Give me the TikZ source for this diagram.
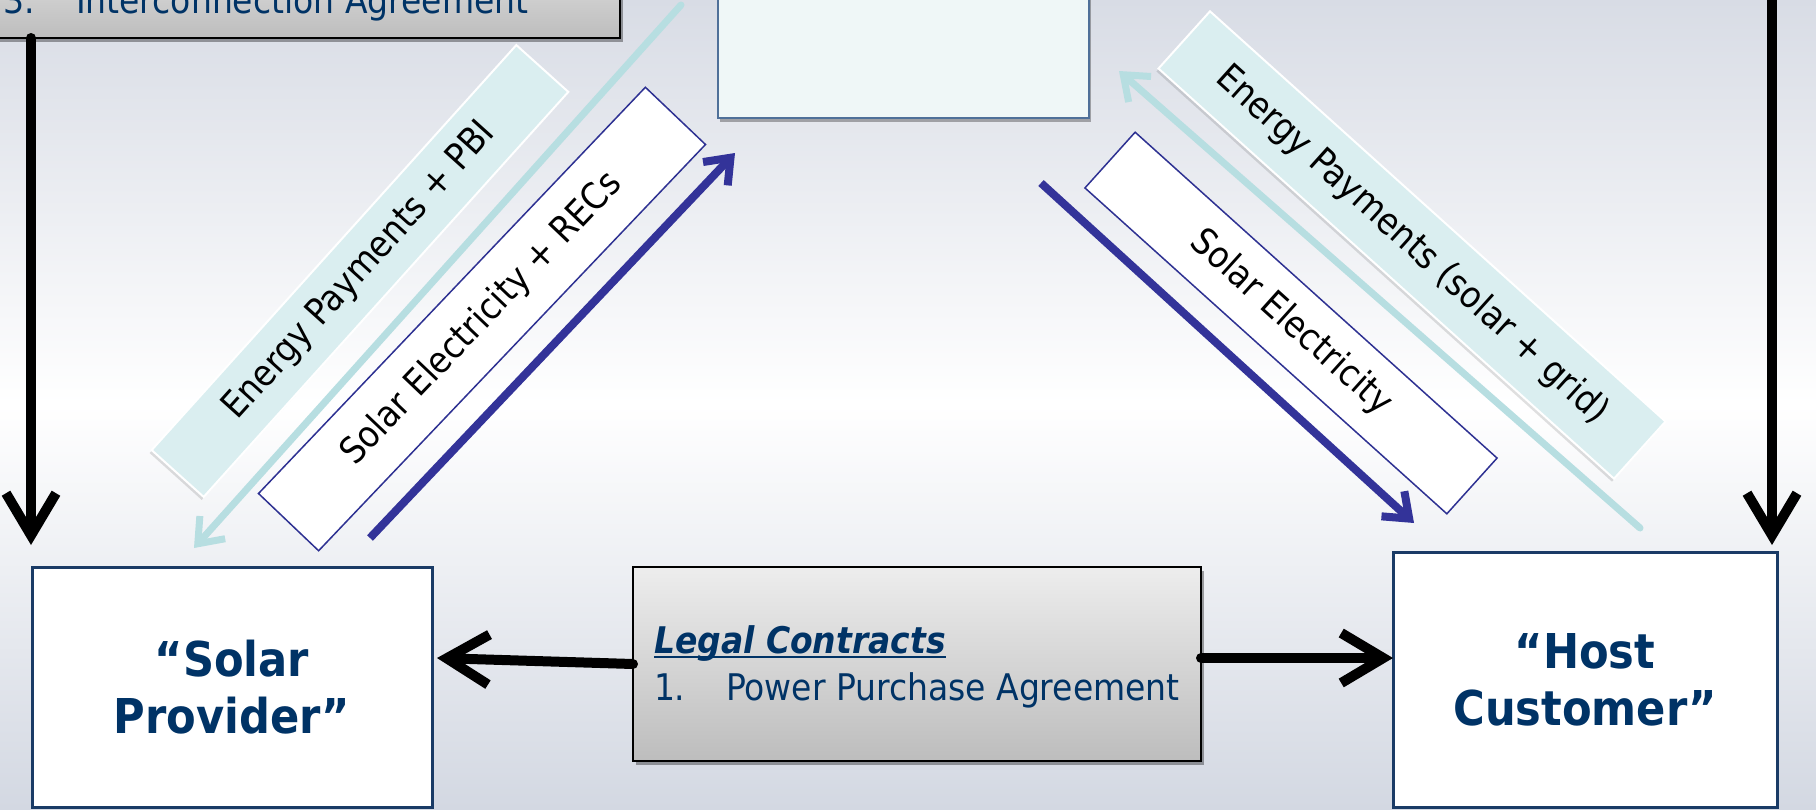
\documentclass[tikz,border=0pt]{standalone}
\usepackage{fontspec}
\setmainfont{DejaVu Sans Condensed}
\usetikzlibrary{arrows.meta,shadows}

\definecolor{bgtop}{HTML}{D8DCE5}
\definecolor{bgbot}{HTML}{D3D8E2}
\definecolor{navy}{HTML}{003366}
\definecolor{boxline}{HTML}{1A3B66}
\definecolor{topfill}{HTML}{EFF7F7}
\definecolor{topline}{HTML}{4F7099}
\definecolor{payfill}{HTML}{DAEEF0}
\definecolor{payline}{HTML}{B7DEE1}
\definecolor{elecline}{HTML}{333399}
\definecolor{elecframe}{HTML}{2E3192}
\definecolor{grayhi}{HTML}{EDEDED}
\definecolor{graylo}{HTML}{BDBDBD}

\begin{document}
\begin{tikzpicture}[x=1pt,y=-1pt,
  every node/.style={inner sep=0pt, outer sep=0pt},
  party/.style={draw=boxline, line width=3pt, fill=white, text=navy,
    font=\fontsize{48}{57}\selectfont\bfseries, align=center},
  contract/.style={draw=black, line width=2.5pt, top color=grayhi, bottom color=graylo,
    drop shadow={shadow xshift=3pt, shadow yshift=-4pt, fill=black, opacity=0.35}},
  listtext/.style={text=navy, font=\fontsize{36.7}{40}\selectfont, anchor=base west},
  paytag/.style={fill=payfill, draw=white, line width=2pt,
    font=\fontsize{36.5}{40}\selectfont,
    drop shadow={shadow xshift=-2pt, shadow yshift=-3pt, fill=black, opacity=0.12}},
  electag/.style={fill=white, draw=elecframe, line width=1.5pt,
    font=\fontsize{36.5}{40}\selectfont},
  flowarrow/.style={line width=10pt, line cap=round, line join=round,
    -{Straight Barb[length=42pt, width=50pt]}},
  payarrow/.style={draw=payline, line width=7pt, line cap=round,
    -{Straight Barb[length=22pt, width=34pt]}},
  elecarrow/.style={draw=elecline, line width=8pt,
    -{Straight Barb[length=22pt, width=34pt]}}
]
\useasboundingbox (0,0) rectangle (1816,809);
\clip (0,0) rectangle (1816,809);

% backdrop
\shade[top color=bgtop, bottom color=bgbot, middle color=white] (0,0) rectangle (1816,809);

% parties
\node[party, minimum width=400pt, minimum height=240pt] (provider) at (232,687) {“Solar\\Provider”};
\node[party, minimum width=384pt, minimum height=255pt] (host) at (1585,679.5) {“Host\\Customer”};
\node[draw=topline, line width=2pt, fill=topfill, minimum width=371pt, minimum height=160pt,
  drop shadow={shadow xshift=2pt, shadow yshift=-4pt, fill=black, opacity=0.3}] (utility) at (903.5,38) {};

% contract boxes
\node[contract, minimum width=640pt, minimum height=110pt] (iconn) at (300,-17) {};
\node[listtext] (iconnNum) at (4,13) {3.};
\node[listtext] (iconnItem) at (76,13) {Interconnection Agreement};

\node[contract, minimum width=568pt, minimum height=194pt] (legal) at (917,664) {};
\node[listtext] (legalHead) at (654,653) {\bfseries\itshape Legal Contracts};
\node[listtext] (legalNum) at (654,700) {1.};
\node[listtext] (legalItem) at (726,700) {Power Purchase Agreement};
\draw[navy, line width=2.5pt] ([yshift=-4pt]legalHead.base west) -- ([yshift=-4pt]legalHead.base east);

% flow labels
\node[paytag, rotate=48, minimum width=545pt, minimum height=70pt] (payL) at (360,271) {Energy Payments + PBI};
\node[electag, rotate=46.4, minimum width=561pt, minimum height=83pt] (elecL) at (482,319) {Solar Electricity + RECs};
\node[paytag, rotate=-42, minimum width=613pt, minimum height=77pt] (payR) at (1412,245) {Energy Payments (solar + grid)};
\node[electag, rotate=-42, minimum width=487pt, minimum height=75pt] (elecR) at (1291,323) {Solar Electricity};

% flow arrows
\coordinate (payLtail) at (681,5);
\coordinate (payLtip) at (194,548);
\coordinate (elecLtail) at (370,538);
\coordinate (elecLtip) at (735,153);
\coordinate (payRtail) at (1640,528);
\coordinate (payRtip) at (1119,71);
\coordinate (elecRtail) at (1041,183);
\coordinate (elecRtip) at (1414,523);
\draw[payarrow] (payLtail) -- (payLtip);
\draw[elecarrow] (elecLtail) -- (elecLtip);
\draw[payarrow] (payRtail) -- (payRtip);
\draw[elecarrow] (elecRtail) -- (elecRtip);

% contract links
\coordinate (provTip) at (437,658);
\coordinate (hostTip) at (1393,658);
\coordinate (leftTip) at (31,545);
\coordinate (rightTail) at (1772,-10);
\coordinate (rightTip) at (1772,545);
\draw[flowarrow] (legal.west) -- (provTip);
\draw[flowarrow] (legal.east |- hostTip) -- (hostTip);
\draw[flowarrow] (iconn.south -| leftTip) -- (leftTip);
\draw[flowarrow] (rightTail) -- (rightTip);
\end{tikzpicture}
\end{document}
